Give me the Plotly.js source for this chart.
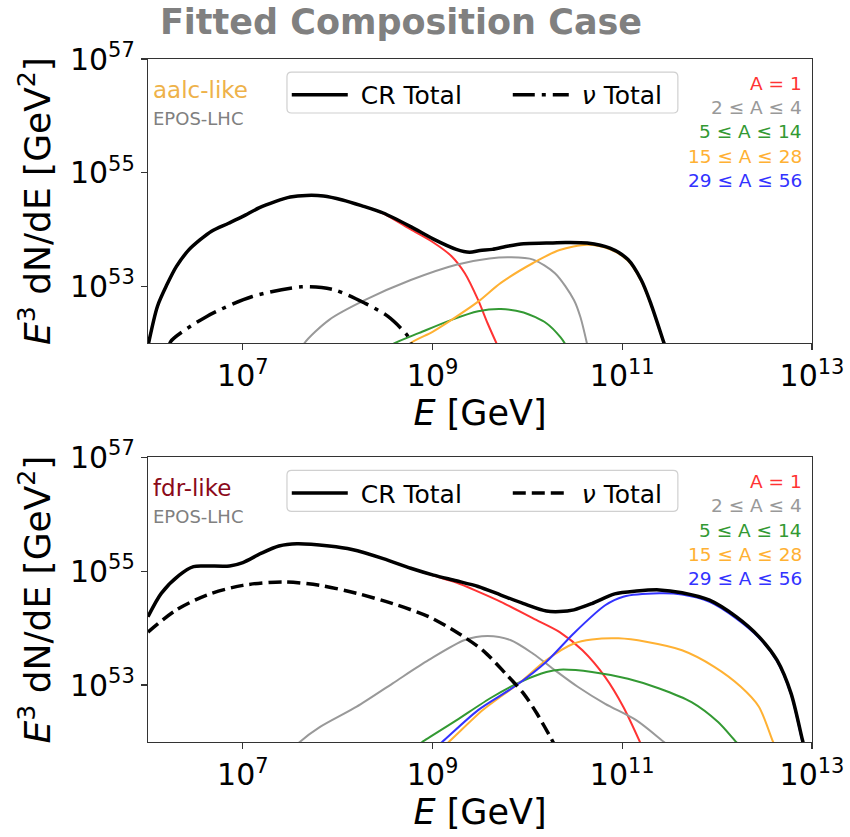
<!DOCTYPE html>
<html>
<head>
<meta charset="utf-8">
<script src="https://cdn.plot.ly/plotly-3.0.1.min.js"></script>
<style>html,body{margin:0;padding:0;background:#fff;}#chart{width:850px;height:837px;}</style>
</head>
<body>
<div id="chart"></div>
<script>
// ---- Data (log10 E [GeV], log10 E^3 dN/dE [GeV^2]) ----
// Top panel: aalc-like
const topCR_logE = [6.0, 6.1, 6.2, 6.3, 6.43, 6.55, 6.67, 6.85, 7.0, 7.17, 7.34, 7.5, 7.67, 7.85, 8.05, 8.25, 8.48, 8.77, 9.01, 9.25, 9.39, 9.5, 9.63, 9.8, 9.96, 10.2, 10.4, 10.63, 10.87, 11.06, 11.2, 11.3, 11.44, 11.5];
const topCR_logY = [51.95, 52.65, 53.03, 53.35, 53.64, 53.82, 53.97, 54.11, 54.23, 54.38, 54.49, 54.57, 54.60, 54.59, 54.52, 54.42, 54.29, 54.05, 53.83, 53.65, 53.60, 53.63, 53.65, 53.71, 53.75, 53.76, 53.77, 53.76, 53.67, 53.47, 53.11, 52.70, 52.0, 51.7];
const topA1_logE = [6.0, 6.1, 6.2, 6.3, 6.43, 6.55, 6.67, 6.85, 7.0, 7.17, 7.34, 7.5, 7.67, 7.85, 8.05, 8.25, 8.48, 8.77, 9.0, 9.2, 9.34, 9.48, 9.58, 9.7];
const topA1_logY = [51.95, 52.65, 53.03, 53.35, 53.64, 53.82, 53.97, 54.11, 54.23, 54.38, 54.49, 54.57, 54.60, 54.59, 54.52, 54.42, 54.28, 54.0, 53.78, 53.53, 53.23, 52.76, 52.35, 51.9];
const topA2_logE = [7.6, 7.65, 7.91, 8.29, 8.77, 9.25, 9.6, 9.82, 10.06, 10.29, 10.49, 10.56, 10.64];
const topA2_logY = [51.8, 52.0, 52.41, 52.76, 53.11, 53.38, 53.49, 53.51, 53.47, 53.23, 52.76, 52.45, 51.9];
const topA5_logE = [8.55, 8.6, 8.86, 9.2, 9.48, 9.72, 9.96, 10.2, 10.35, 10.43];
const topA5_logY = [51.95, 52.0, 52.18, 52.41, 52.56, 52.60, 52.54, 52.35, 52.1, 51.9];
const topA15_logE = [8.74, 8.77, 9.0, 9.2, 9.48, 9.72, 10.06, 10.34, 10.63, 10.87, 11.06, 11.2, 11.3, 11.44];
const topA15_logY = [51.9, 52.0, 52.2, 52.41, 52.73, 53.06, 53.41, 53.64, 53.73, 53.65, 53.45, 53.09, 52.68, 51.98];
const topNu_logE = [6.22, 6.24, 6.62, 7.1, 7.62, 7.96, 8.29, 8.53, 8.74, 8.78];
const topNu_logY = [51.9, 52.03, 52.47, 52.82, 52.99, 52.94, 52.70, 52.47, 52.12, 51.95];

// Bottom panel: fdr-like
const botCR_logE = [6.0, 6.14, 6.33, 6.48, 6.62, 6.86, 7.0, 7.19, 7.38, 7.57, 7.91, 8.15, 8.48, 8.77, 9.01, 9.25, 9.48, 9.72, 9.96, 10.2, 10.34, 10.49, 10.68, 10.92, 11.15, 11.39, 11.63, 11.92, 12.2, 12.44, 12.63, 12.78, 12.9, 12.95];
const botCR_logY = [54.20, 54.61, 54.93, 55.08, 55.09, 55.09, 55.15, 55.31, 55.44, 55.48, 55.44, 55.38, 55.22, 55.05, 54.93, 54.83, 54.73, 54.58, 54.43, 54.30, 54.29, 54.32, 54.43, 54.60, 54.65, 54.67, 54.62, 54.49, 54.20, 53.85, 53.44, 52.85, 52.03, 51.7];
const botA1_logE = [6.0, 6.14, 6.33, 6.48, 6.62, 6.86, 7.0, 7.19, 7.38, 7.57, 7.91, 8.15, 8.48, 8.77, 9.01, 9.25, 9.48, 9.72, 10.06, 10.34, 10.58, 10.82, 11.01, 11.2];
const botA1_logY = [54.20, 54.61, 54.93, 55.08, 55.09, 55.09, 55.15, 55.31, 55.44, 55.48, 55.44, 55.38, 55.22, 55.05, 54.92, 54.80, 54.64, 54.46, 54.17, 53.93, 53.61, 53.14, 52.62, 51.95];
const botA2_logE = [7.57, 7.6, 7.81, 8.2, 8.58, 8.96, 9.34, 9.58, 9.82, 10.06, 10.29, 10.53, 10.82, 11.15, 11.44, 11.48];
const botA2_logY = [51.95, 52.0, 52.26, 52.62, 53.03, 53.44, 53.79, 53.86, 53.79, 53.55, 53.26, 52.97, 52.67, 52.38, 52.0, 51.95];
const botA5_logE = [8.85, 8.89, 9.25, 9.63, 9.96, 10.2, 10.34, 10.68, 11.06, 11.39, 11.73, 12.01, 12.2, 12.23];
const botA5_logY = [51.95, 52.0, 52.38, 52.79, 53.08, 53.23, 53.27, 53.23, 53.11, 52.94, 52.70, 52.35, 52.0, 51.95];
const botA15_logE = [9.13, 9.17, 9.53, 9.91, 10.2, 10.49, 10.68, 10.96, 11.25, 11.63, 11.97, 12.25, 12.44, 12.59, 12.62];
const botA15_logY = [51.95, 52.0, 52.56, 53.03, 53.44, 53.73, 53.80, 53.82, 53.76, 53.61, 53.32, 52.97, 52.62, 52.0, 51.9];
const botA29_logE = [9.06, 9.1, 9.48, 9.86, 10.2, 10.49, 10.82, 11.01, 11.39, 11.63, 11.92, 12.2, 12.44, 12.63, 12.78, 12.9, 12.95];
const botA29_logY = [51.95, 52.0, 52.56, 52.97, 53.41, 53.91, 54.40, 54.55, 54.61, 54.59, 54.46, 54.17, 53.83, 53.42, 52.83, 52.0, 51.7];
const botNu_logE = [6.0, 6.29, 6.62, 7.0, 7.43, 7.81, 8.2, 8.58, 8.96, 9.25, 9.53, 9.77, 9.96, 10.1, 10.27, 10.3];
const botNu_logY = [53.93, 54.31, 54.58, 54.75, 54.81, 54.75, 54.61, 54.43, 54.20, 53.93, 53.61, 53.20, 52.85, 52.50, 52.0, 51.9];

// Tick labels
const xTickVals = [1e7, 1e9, 1e11, 1e13];
const xTickText = ['10<sup>7</sup>', '10<sup>9</sup>', '10<sup>11</sup>', '10<sup>13</sup>'];
const yTickVals = [1e53, 1e55, 1e57];
const yTickText = ['10<sup>53</sup>', '10<sup>55</sup>', '10<sup>57</sup>'];

const compLabels = ['A = 1', '2 ≤ A ≤ 4', '5 ≤ A ≤ 14', '15 ≤ A ≤ 28', '29 ≤ A ≤ 56'];
const compColors = ['#ff3333', '#999999', '#339933', '#ffb133', '#3333ff'];
const legendNames = ['CR Total', '<i>ν</i> Total'];

// ---- Build ----
const pw = v => v.map(x => Math.pow(10, x));
function line(lx, ly, color, width, dash, xa, ya, name, showlegend, legend) {
  return {
    x: pw(lx), y: pw(ly), type: 'scatter', mode: 'lines', name: name || '',
    line: {color: color, width: width, dash: dash || 'solid', shape: 'spline', smoothing: 0.8},
    xaxis: xa, yaxis: ya, showlegend: !!showlegend, legend: legend || 'legend',
    hoverinfo: 'skip', cliponaxis: true
  };
}
const pad = s => '\u00a0' + s;

const traces = [
  line(topA1_logE, topA1_logY, compColors[0], 2, 'solid', 'x', 'y'),
  line(topA2_logE, topA2_logY, compColors[1], 2, 'solid', 'x', 'y'),
  line(topA5_logE, topA5_logY, compColors[2], 2, 'solid', 'x', 'y'),
  line(topA15_logE, topA15_logY, compColors[3], 2, 'solid', 'x', 'y'),
  line(topCR_logE, topCR_logY, '#000000', 3.5, 'solid', 'x', 'y', pad(legendNames[0]), true, 'legend'),
  line(topNu_logE, topNu_logY, '#000000', 3.5, '22px,7px,4px,7px', 'x', 'y', pad(legendNames[1]), true, 'legend'),

  line(botA1_logE, botA1_logY, compColors[0], 2, 'solid', 'x2', 'y2'),
  line(botA2_logE, botA2_logY, compColors[1], 2, 'solid', 'x2', 'y2'),
  line(botA5_logE, botA5_logY, compColors[2], 2, 'solid', 'x2', 'y2'),
  line(botA15_logE, botA15_logY, compColors[3], 2, 'solid', 'x2', 'y2'),
  line(botA29_logE, botA29_logY, compColors[4], 2, 'solid', 'x2', 'y2'),
  line(botCR_logE, botCR_logY, '#000000', 3.5, 'solid', 'x2', 'y2', pad(legendNames[0]), true, 'legend2'),
  line(botNu_logE, botNu_logY, '#000000', 3.5, '13px,6px', 'x2', 'y2', pad(legendNames[1]), true, 'legend2')
];

const FONT = 'DejaVu Sans, sans-serif';
function xax(anchor) {
  return {
    type: 'log', range: [6, 13], anchor: anchor,
    tickvals: xTickVals, ticktext: xTickText, tickfont: {size: 30, color: '#000', family: FONT},
    ticks: 'outside', ticklen: 6, tickcolor: '#333', tickwidth: 1.2,
    showline: true, linecolor: '#333', linewidth: 1.2, mirror: true, showgrid: false, zeroline: false,
    title: {text: '<i>E</i> [GeV]', font: {size: 35, color: '#000', family: FONT}, standoff: 2}
  };
}
function yax(anchor, domain) {
  return {
    type: 'log', range: [52, 57], anchor: anchor, domain: domain,
    tickvals: yTickVals, ticktext: yTickText, tickfont: {size: 30, color: '#000', family: FONT},
    ticks: 'outside', ticklen: 6, tickcolor: '#333', tickwidth: 1.2,
    showline: true, linecolor: '#333', linewidth: 1.2, mirror: true, showgrid: false, zeroline: false,
    title: {text: '<i>E</i><sup>3</sup> dN/dE [GeV<sup>2</sup>]', font: {size: 36, color: '#000', family: FONT}, standoff: 8}
  };
}

const annotations = [];
const shapes = [];
function panelAnn(xref, yref, label, labelColor) {
  annotations.push({xref: xref + ' domain', yref: yref + ' domain', x: 0.005, y: 0.892, xanchor: 'left', yanchor: 'middle',
    text: label, showarrow: false, font: {size: 23, color: labelColor, family: FONT}});
  annotations.push({xref: xref + ' domain', yref: yref + ' domain', x: 0.005, y: 0.79, xanchor: 'left', yanchor: 'middle',
    text: 'EPOS-LHC', showarrow: false, font: {size: 18, color: '#808080', family: FONT}});
  compLabels.forEach((t, i) => {
    annotations.push({xref: xref + ' domain', yref: yref + ' domain', x: 0.988, y: 0.915 - i * 0.0856, xanchor: 'right', yanchor: 'middle',
      text: t, showarrow: false, font: {size: 18.5, color: compColors[i], family: FONT}});
  });
  // legend frame (rounded box)
  const x0 = 0.2093, x1 = 0.798, y0 = 0.810, y1 = 0.954, rx = 0.007, ry = 0.016;
  shapes.push({type: 'path', xref: xref + ' domain', yref: yref + ' domain', layer: 'above',
    path: `M ${x0 + rx} ${y0} L ${x1 - rx} ${y0} Q ${x1} ${y0} ${x1} ${y0 + ry} L ${x1} ${y1 - ry} Q ${x1} ${y1} ${x1 - rx} ${y1} L ${x0 + rx} ${y1} Q ${x0} ${y1} ${x0} ${y1 - ry} L ${x0} ${y0 + ry} Q ${x0} ${y0} ${x0 + rx} ${y0} Z`,
    line: {color: '#d0d0d0', width: 1.2}, fillcolor: 'rgba(0,0,0,0)'});
}
panelAnn('x', 'y', 'aalc-like', '#eeb24a');
panelAnn('x2', 'y2', 'fdr-like', '#8b0a1a');

function legendCfg(y) {
  return {
    orientation: 'h', x: 0.209, xanchor: 'left', y: y, yanchor: 'top',
    font: {size: 25, color: '#000', family: FONT},
    bgcolor: 'rgba(0,0,0,0)', borderwidth: 0,
    entrywidth: 150, entrywidthmode: 'pixels', itemwidth: 56
  };
}

const layout = {
  width: 850, height: 837,
  margin: {l: 148, r: 38, t: 59, b: 95},
  paper_bgcolor: '#fff', plot_bgcolor: '#fff',
  font: {family: FONT},
  title: {text: '<b>Fitted Composition Case</b>', font: {size: 35, color: '#808080', family: FONT},
    x: 401 / 850, xanchor: 'center', xref: 'container', y: 1 - 22 / 837, yanchor: 'middle', yref: 'container'},
  xaxis: xax('y'),
  yaxis: yax('x', [0.584, 1]),
  xaxis2: xax('y2'),
  yaxis2: yax('x2', [0, 0.417]),
  legend: legendCfg(0.981),
  legend2: legendCfg(0.398),
  annotations: annotations,
  shapes: shapes,
  showlegend: true
};

Plotly.newPlot('chart', traces, layout, {displayModeBar: false, staticPlot: true});
</script>
</body>
</html>
